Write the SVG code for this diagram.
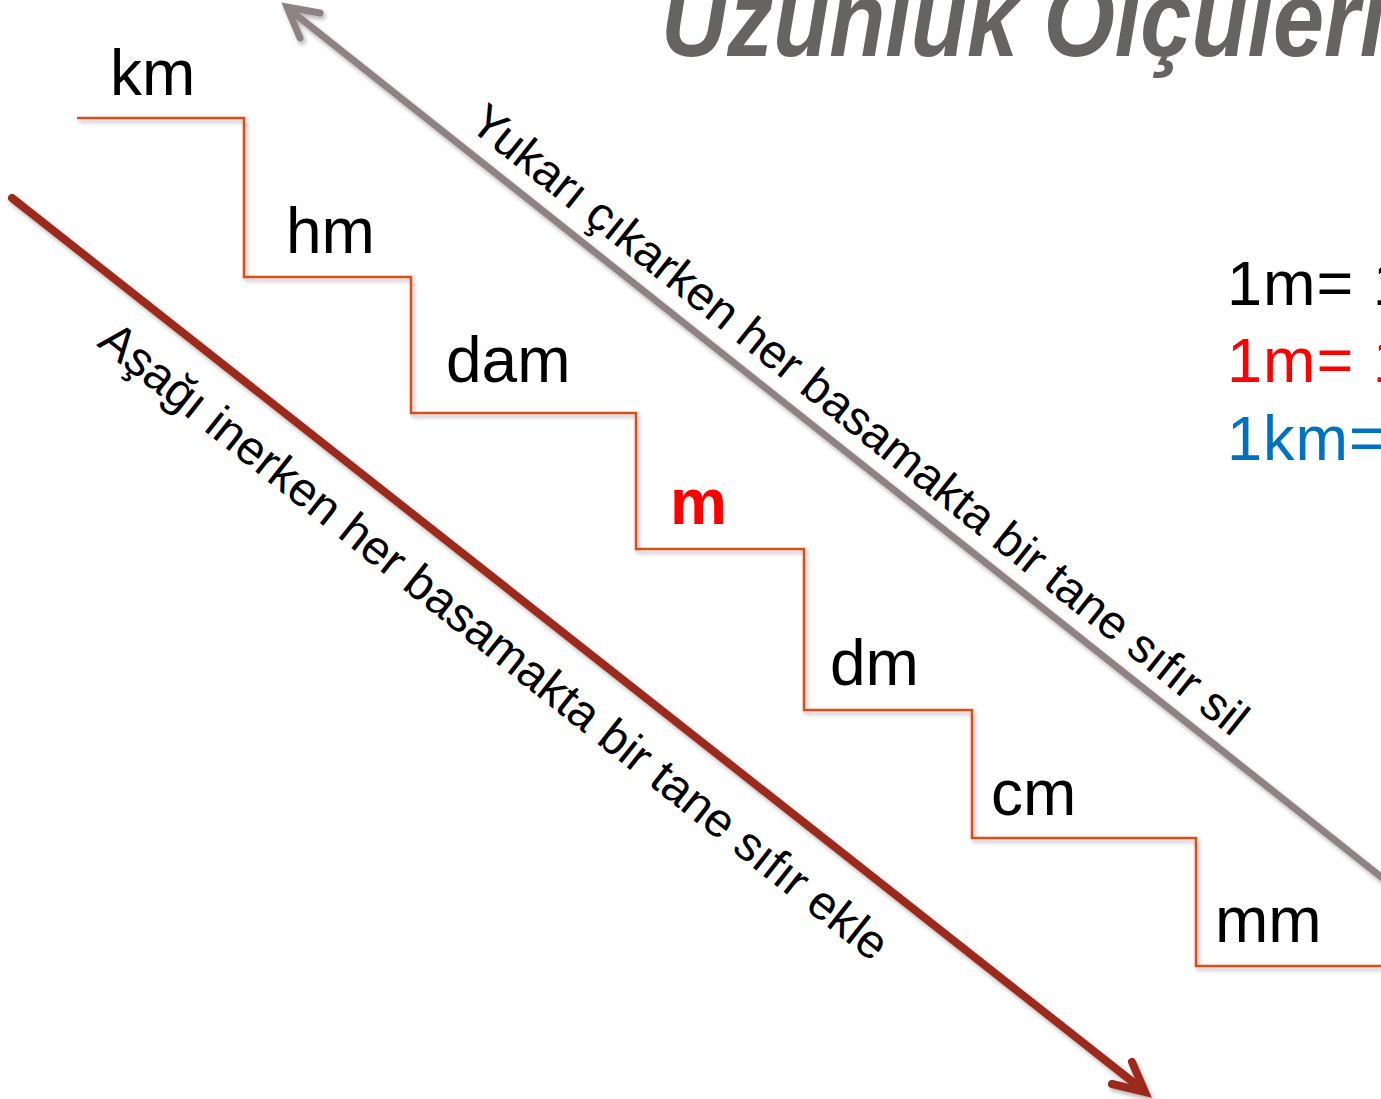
<svg xmlns="http://www.w3.org/2000/svg" width="1381" height="1099" viewBox="0 0 1381 1099">
<defs>
<filter id="sh" x="-10%" y="-10%" width="120%" height="120%">
<feDropShadow dx="2" dy="3" stdDeviation="2" flood-color="#000" flood-opacity="0.3"/>
</filter>
</defs>
<style>
.lbl{font-family:"Liberation Sans",Arial,sans-serif;font-size:64px;fill:#000}
.diag{font-family:"Liberation Sans",Arial,sans-serif;font-size:47.6px;fill:#000}
.eq{font-family:"Liberation Sans",Arial,sans-serif;font-size:63px;letter-spacing:1px}
.stairs{fill:none;stroke:#D8501F;stroke-width:2.5}
.gray{fill:none;stroke:#8E8284;stroke-width:7;stroke-linecap:round;stroke-linejoin:miter}
.brown{fill:none;stroke:#9C2B1E;stroke-width:8;stroke-linecap:round;stroke-linejoin:miter}
</style>
<rect width="1381" height="1099" fill="#fff"/>
<g id="title">
<text transform="translate(661,56) scale(0.85,1)" font-family="Liberation Sans,Arial,sans-serif" font-size="108" font-weight="bold" font-style="italic" fill="#666362">Uzunluk Ölçüleri</text>
</g>
<g id="connectors">
<path class="stairs" filter="url(#sh)" d="M77,118 H244 V277 H411 V413 H636 V549 H804 V710 H972 V838 H1196 V966 H1381"/>
<g filter="url(#sh)">
<line class="gray" x1="290" y1="10" x2="1400" y2="892"/>
<polyline class="gray" points="320,13 287,7 300,38"/>
</g>
<g filter="url(#sh)">
<line class="brown" x1="12" y1="198" x2="1143" y2="1090"/>
<polyline class="brown" points="1132,1062 1145,1092 1112,1084"/>
</g>
</g>
<g id="node-km"><text class="lbl" x="110" y="95">km</text></g>
<g id="node-hm"><text class="lbl" x="286" y="253">hm</text></g>
<g id="node-dam"><text class="lbl" x="446" y="382">dam</text></g>
<g id="node-m"><text class="lbl" x="670" y="524" font-weight="bold" style="fill:#FF0000">m</text></g>
<g id="node-dm"><text class="lbl" x="830" y="685">dm</text></g>
<g id="node-cm"><text class="lbl" x="991" y="815">cm</text></g>
<g id="node-mm"><text class="lbl" x="1215" y="942">mm</text></g>
<g id="label-up"><text class="diag" transform="translate(467,127) rotate(38.6)">Yukarı çıkarken her basamakta bir tane sıfır sil</text></g>
<g id="label-down"><text class="diag" style="font-size:48px" transform="translate(96,345) rotate(38.5)">Aşağı inerken her basamakta bir tane sıfır ekle</text></g>
<g id="equations">
<text class="eq" x="1227" y="305" fill="#000">1m= 1</text>
<text class="eq" x="1227" y="382" fill="#FF0000">1m= 1</text>
<text class="eq" x="1227" y="460" fill="#0070C0">1km=</text>
</g>
</svg>
